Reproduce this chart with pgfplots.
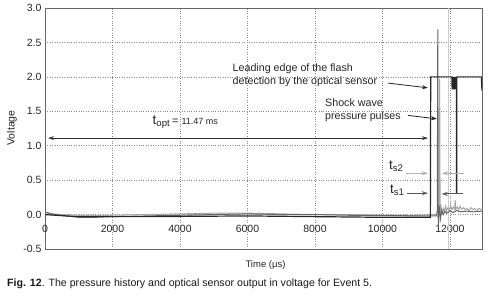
\documentclass[border=0pt]{standalone}
\usepackage{fontspec}
\setmainfont{Liberation Sans}
\usepackage{pgfplots}
\pgfplotsset{compat=1.18}
\usetikzlibrary{arrows.meta}
\begin{document}
\begin{tikzpicture}[x=1pt,y=1pt]
\useasboundingbox (0pt,0pt) rectangle (488pt,297pt);
\begin{axis}[at={(45pt,48pt)}, anchor=south west, scale only axis,
  width=437pt, height=241pt,
  xmin=0, xmax=12950, ymin=-0.5, ymax=3.0,
  xtick={0,2000,4000,6000,8000,10000,12000},
  ytick={-0.5,0,0.5,1,1.5,2,2.5,3},
  grid=major, major grid style={dotted, black!45, line width=0.6pt},
  axis line style={black!60, line width=0.8pt},
  tick style={draw=none},
  /pgf/number format/assume math mode=true,
  /pgf/number format/1000 sep={},
  scaled x ticks=false,
  ticklabel style={font=\fontsize{10.5}{12}\selectfont, text=black!85},
  yticklabel style={/pgf/number format/fixed, /pgf/number format/fixed zerofill, /pgf/number format/precision=1},
  xticklabel style={yshift=27pt},
]
% cursor line
\addplot[black!20, line width=0.8pt] coordinates {(11950,-0.5) (11950,3.0)};
% pressure sensor 2 (light grey)
\addplot[black!35, line width=1pt] coordinates {
(0,0.03)(150,0.01)(500,0.0)(1000,-0.01)(2000,-0.01)(3000,0.0)(4000,0.01)(5000,0.02)(6000,0.02)(7000,0.01)(8000,0.0)(9000,0.0)(10000,-0.01)(11000,-0.01)(11600,0.0)(11660,-0.05)(11680,0.1)(11695,1.97)(11710,-0.12)(11730,0.15)(11760,0.02)(11800,0.09)(11830,0.04)(11870,0.12)(11900,0.05)(11940,0.1)(11980,0.06)(12020,0.13)(12060,0.07)(12100,0.11)(12140,0.08)(12155,0.21)(12170,0.08)(12220,0.11)(12260,0.07)(12300,0.12)(12350,0.08)(12400,0.1)(12450,0.07)(12500,0.09)(12560,0.06)(12620,0.1)(12680,0.07)(12740,0.09)(12800,0.06)(12860,0.09)(12950,0.07)};
% pressure sensor 1 (dark grey)
\addplot[black!60, line width=1pt] coordinates {
(0,0.04)(200,0.01)(600,-0.02)(1000,-0.04)(1500,-0.04)(2000,-0.03)(3000,-0.02)(4000,-0.01)(5000,0.0)(6000,0.01)(7000,0.0)(8000,0.0)(9000,-0.01)(10000,-0.01)(11000,-0.02)(11600,-0.02)(11625,0.05)(11640,2.69)(11655,-0.15)(11680,0.12)(11720,-0.05)(11760,0.06)(11800,0.0)(11850,0.05)(11900,0.02)(12000,0.05)(12100,0.03)(12200,0.06)(12300,0.04)(12500,0.05)(12700,0.04)(12950,0.05)};
% optical sensor (black)
\addplot[black!85, line width=1.2pt] coordinates {
(0,0.0)(300,-0.01)(1000,-0.03)(3000,-0.03)(6000,-0.02)(8000,-0.03)(10000,-0.04)(11420,-0.04)(11430,2.0)(12060,2.0)(12065,1.82)(12080,2.0)(12095,1.82)(12110,2.0)(12125,1.82)(12140,2.0)(12155,1.82)(12170,2.0)(12185,1.82)(12195,1.9)(12195,0.32)(12205,0.32)(12205,2.0)(12930,2.0)(12950,1.8)};
% annotation arrows
\draw[{Stealth[length=6pt,width=4pt]}-{Stealth[length=6pt,width=4pt]}, line width=1pt, black!80] (axis cs:90,1.11) -- (axis cs:11350,1.11);
\draw[-{Stealth[length=6pt,width=4pt]}, line width=0.8pt, black!85] (axis cs:10160,1.91) -- (axis cs:11350,1.84);
\draw[-{Stealth[length=6pt,width=4pt]}, line width=0.8pt, black!85] (axis cs:10760,1.44) -- (axis cs:11615,1.39);
\draw[-{Stealth[length=6pt,width=4pt]}, line width=1pt, black!30] (axis cs:10700,0.60) -- (axis cs:11350,0.60);
\draw[-{Stealth[length=6pt,width=4pt]}, line width=1pt, black!30] (axis cs:12415,0.60) -- (axis cs:11763,0.60);
\draw[-{Stealth[length=6pt,width=4pt]}, line width=1pt, black!65] (axis cs:10720,0.31) -- (axis cs:11350,0.31);
\draw[-{Stealth[length=6pt,width=4pt]}, line width=1pt, black!65] (axis cs:12395,0.30) -- (axis cs:11755,0.30);
\end{axis}
% texts
\node[anchor=west, inner sep=0pt, text=black!85] at (152.5pt,175pt) {\fontsize{13.5}{14}\selectfont t\raisebox{-0.35ex}{\fontsize{9.6}{10}\selectfont opt}\,\fontsize{11}{12}\selectfont= \fontsize{9}{10}\selectfont 11.47 ms};
\node[anchor=west, inner sep=0pt, align=left, text=black!85, font=\fontsize{10.7}{12.7}\selectfont] at (232.5pt,221.7pt) {Leading edge of the flash\\detection by the optical sensor};
\node[anchor=west, inner sep=0pt, align=left, text=black!85, font=\fontsize{10.7}{13.4}\selectfont] at (325pt,187pt) {Shock wave\\pressure pulses};
\node[inner sep=0pt, text=black!85] at (396pt,131pt) {\fontsize{13.5}{14}\selectfont t\raisebox{-0.35ex}{\fontsize{9.6}{10}\selectfont s2}};
\node[inner sep=0pt, text=black!85] at (397pt,107pt) {\fontsize{13.5}{14}\selectfont t\raisebox{-0.35ex}{\fontsize{9.6}{10}\selectfont s1}};
\node[inner sep=0pt, text=black!85, font=\fontsize{9.5}{11}\selectfont] at (265.5pt,32pt) {Time (μs)};
\node[inner sep=0pt, rotate=90, text=black!85, font=\fontsize{10.5}{12}\selectfont] at (12pt,169pt) {Voltage};
\node[anchor=west, inner sep=0pt, font=\fontsize{10.6}{12}\selectfont, text=black!90] at (7pt,13.7pt) {\textbf{Fig. 12}. The pressure history and optical sensor output in voltage for Event 5.};
\end{tikzpicture}
\end{document}
